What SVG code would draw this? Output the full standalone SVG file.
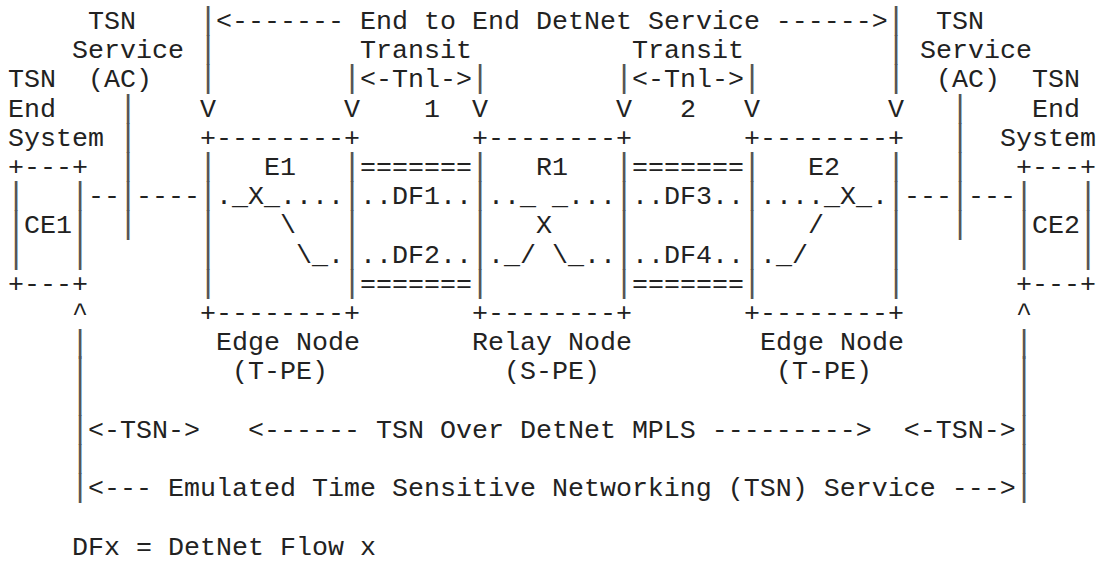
<svg xmlns="http://www.w3.org/2000/svg" width="1104" height="562" viewBox="0 0 1104 562" xml:space="preserve">
  <style>
    text { font-family: "Liberation Mono", "Courier New", monospace; font-size: 26.667px; fill: #222; white-space: pre; }
    /* vertical rules: a slightly larger bar glyph so stacked rows join up */
    text.b { font-size: 32px; fill: #555; }
  </style>
  <rect width="1104" height="562" fill="#fff"/>

  <!-- grid: column c at x = 8 + 16c (bars at 6.4 + 16c), row r baseline at y = 29 + 29.2r -->

  <!-- TSN end system, left -->
  <g id="ce1">
    <text x="8" y="87.4">TSN</text>
    <text x="8" y="116.6">End</text>
    <text x="8" y="145.8">System</text>
    <text x="8" y="175">+---+</text>
    <text class="b" x="6.4 6.4 6.4" y="204.2 233.4 262.6">|||</text>
    <text class="b" x="70.4 70.4 70.4" y="204.2 233.4 262.6">|||</text>
    <text x="24" y="233.4">CE1</text>
    <text x="8" y="291.8">+---+</text>
  </g>

  <!-- Edge node E1 -->
  <g id="e1">
    <text x="200" y="145.8">+--------+</text>
    <text class="b" x="198.4 198.4 198.4 198.4 198.4" y="175 204.2 233.4 262.6 291.8">|||||</text>
    <text class="b" x="342.4 342.4 342.4 342.4 342.4" y="175 204.2 233.4 262.6 291.8">|||||</text>
    <text x="264" y="175">E1</text>
    <text x="216" y="204.2">._X_....</text>
    <text x="280" y="233.4">\</text>
    <text x="296" y="262.6">\_.</text>
    <text x="200" y="321">+--------+</text>
    <text x="216" y="350.2">Edge Node</text>
    <text x="232" y="379.4">(T-PE)</text>
  </g>

  <!-- Relay node R1 -->
  <g id="r1">
    <text x="472" y="145.8">+--------+</text>
    <text class="b" x="470.4 470.4 470.4 470.4 470.4" y="175 204.2 233.4 262.6 291.8">|||||</text>
    <text class="b" x="614.4 614.4 614.4 614.4 614.4" y="175 204.2 233.4 262.6 291.8">|||||</text>
    <text x="536" y="175">R1</text>
    <text x="488" y="204.2">.._ _...</text>
    <text x="536" y="233.4">X</text>
    <text x="488" y="262.6">._/ \_..</text>
    <text x="472" y="321">+--------+</text>
    <text x="472" y="350.2">Relay Node</text>
    <text x="504" y="379.4">(S-PE)</text>
  </g>

  <!-- Edge node E2 -->
  <g id="e2">
    <text x="744" y="145.8">+--------+</text>
    <text class="b" x="742.4 742.4 742.4 742.4 742.4" y="175 204.2 233.4 262.6 291.8">|||||</text>
    <text class="b" x="886.4 886.4 886.4 886.4 886.4" y="175 204.2 233.4 262.6 291.8">|||||</text>
    <text x="808" y="175">E2</text>
    <text x="760" y="204.2">...._X_.</text>
    <text x="808" y="233.4">/</text>
    <text x="760" y="262.6">._/</text>
    <text x="744" y="321">+--------+</text>
    <text x="760" y="350.2">Edge Node</text>
    <text x="776" y="379.4">(T-PE)</text>
  </g>

  <!-- TSN end system, right -->
  <g id="ce2">
    <text x="1032" y="87.4">TSN</text>
    <text x="1032" y="116.6">End</text>
    <text x="1000" y="145.8">System</text>
    <text x="1016" y="175">+---+</text>
    <text class="b" x="1014.4 1014.4 1014.4" y="204.2 233.4 262.6">|||</text>
    <text class="b" x="1078.4 1078.4 1078.4" y="204.2 233.4 262.6">|||</text>
    <text x="1032" y="233.4">CE2</text>
    <text x="1016" y="291.8">+---+</text>
  </g>

  <g id="connectors">
    <!-- end to end DetNet service span and transit tunnels -->
    <text class="b" x="198.4 198.4 198.4" y="29 58.2 87.4">|||</text>
    <text class="b" x="886.4 886.4 886.4" y="29 58.2 87.4">|||</text>
    <text x="216" y="29">&lt;------- End to End DetNet Service ------&gt;</text>
    <text x="360" y="58.2">Transit</text>
    <text x="632" y="58.2">Transit</text>
    <text class="b" x="342.4" y="87.4">|</text>
    <text x="360" y="87.4">&lt;-Tnl-&gt;</text>
    <text class="b" x="470.4" y="87.4">|</text>
    <text class="b" x="614.4" y="87.4">|</text>
    <text x="632" y="87.4">&lt;-Tnl-&gt;</text>
    <text class="b" x="742.4" y="87.4">|</text>
    <text x="200" y="116.6">V</text>
    <text x="344" y="116.6">V</text>
    <text x="424" y="116.6">1</text>
    <text x="472" y="116.6">V</text>
    <text x="616" y="116.6">V</text>
    <text x="680" y="116.6">2</text>
    <text x="744" y="116.6">V</text>
    <text x="888" y="116.6">V</text>

    <!-- attachment circuits -->
    <text x="88" y="29">TSN</text>
    <text x="72" y="58.2">Service</text>
    <text x="88" y="87.4">(AC)</text>
    <text class="b" x="118.4 118.4 118.4 118.4 118.4" y="116.6 145.8 175 204.2 233.4">|||||</text>
    <text x="88" y="204.2">--</text>
    <text x="136" y="204.2">----</text>

    <text x="936" y="29">TSN</text>
    <text x="920" y="58.2">Service</text>
    <text x="936" y="87.4">(AC)</text>
    <text class="b" x="950.4 950.4 950.4 950.4 950.4" y="116.6 145.8 175 204.2 233.4">|||||</text>
    <text x="904" y="204.2">---</text>
    <text x="968" y="204.2">---</text>

    <!-- DetNet flows between nodes -->
    <text x="360" y="175">=======</text>
    <text x="360" y="204.2">..DF1..</text>
    <text x="360" y="262.6">..DF2..</text>
    <text x="360" y="291.8">=======</text>
    <text x="632" y="175">=======</text>
    <text x="632" y="204.2">..DF3..</text>
    <text x="632" y="262.6">..DF4..</text>
    <text x="632" y="291.8">=======</text>

    <!-- end system to end system spans -->
    <text x="72" y="321">^</text>
    <text x="1016" y="321">^</text>
    <text class="b" x="70.4 70.4 70.4 70.4 70.4 70.4" y="352 379.4 408.6 437.8 467 496.2">||||||</text>
    <text class="b" x="1014.4 1014.4 1014.4 1014.4 1014.4 1014.4" y="352 379.4 408.6 437.8 467 496.2">||||||</text>
    <text x="88" y="437.8">&lt;-TSN-&gt;   &lt;------ TSN Over DetNet MPLS ---------&gt;  &lt;-TSN-&gt;</text>
    <text x="88" y="496.2">&lt;--- Emulated Time Sensitive Networking (TSN) Service ---&gt;</text>
  </g>

  <g id="legend">
    <text x="72" y="554.6">DFx = DetNet Flow x</text>
  </g>
</svg>
